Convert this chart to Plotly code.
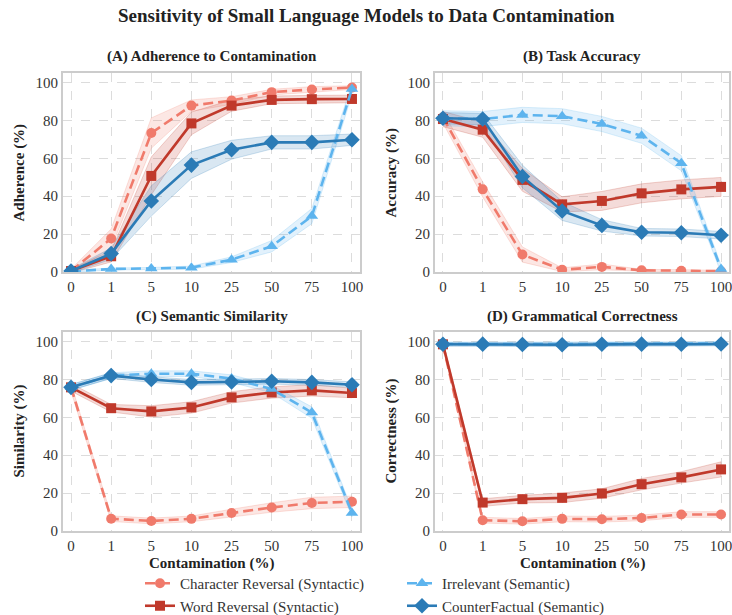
import plotly.graph_objects as go

W, H = 732, 615

# ---------------- data ----------------
contamination = ["0", "1", "5", "10", "25", "50", "75", "100"]

series_names = [
    "Character Reversal (Syntactic)",
    "Word Reversal (Syntactic)",
    "Irrelevant (Semantic)",
    "CounterFactual (Semantic)",
]

# (A) Adherence
adh_char = [0.5, 17.7, 73.3, 87.8, 90.5, 94.9, 96.3, 97.3]
adh_word = [0.5, 8.3, 50.7, 78.4, 87.8, 90.8, 91.2, 91.3]
adh_irr = [0.3, 1.6, 1.9, 2.3, 6.5, 13.6, 29.5, 96.6]
adh_cf = [0.5, 9.7, 37.5, 56.4, 64.5, 68.4, 68.4, 69.8]
adh_char_ci = [1, 5, 8, 3, 2, 1.5, 1.5, 1]
adh_word_ci = [1, 3, 10, 6, 3, 2, 2, 2]
adh_irr_ci = [0.5, 0.5, 0.5, 0.8, 1.5, 3, 4, 3]
adh_cf_ci = [1, 3, 8, 7, 5, 3.5, 3.5, 3]

# (B) Accuracy
acc_char = [81.6, 43.6, 9.2, 1.2, 2.7, 0.9, 0.7, 0.4]
acc_word = [80.7, 75.1, 48.6, 35.7, 37.5, 41.5, 43.6, 44.9]
acc_irr = [81.1, 80.7, 82.9, 82.2, 78.1, 71.9, 57.4, 1.6]
acc_cf = [81.1, 80.7, 50.4, 32.2, 24.6, 21.0, 20.7, 19.4]
acc_char_ci = [3, 4, 4, 1, 1.5, 0.5, 0.5, 0.5]
acc_word_ci = [4, 4, 6, 4, 5, 5, 5, 5]
acc_irr_ci = [4, 4, 4, 4, 4, 4, 4, 2]
acc_cf_ci = [3, 3, 6, 5, 3, 2, 2, 2]

# (C) Similarity
sim_char = [75.8, 6.5, 5.3, 6.4, 9.5, 12.4, 14.8, 15.4]
sim_word = [75.8, 64.8, 63.1, 65.2, 70.5, 73.1, 74.2, 72.8]
sim_irr = [75.8, 82.0, 83.0, 83.0, 80.4, 74.9, 62.5, 9.5]
sim_cf = [75.8, 82.0, 79.9, 78.4, 78.6, 79.0, 78.4, 77.2]
sim_char_ci = [2, 1.5, 1.5, 1.5, 2, 2.5, 3, 3]
sim_word_ci = [2, 2, 3, 3, 3, 3, 3, 2.5]
sim_irr_ci = [1.5, 1.5, 1.5, 1.5, 2, 2, 3, 2]
sim_cf_ci = [1.5, 1.5, 1.5, 1.5, 1.5, 1.5, 1.5, 1.5]

# (D) Correctness
cor_char = [98.5, 5.7, 5.1, 6.4, 6.2, 6.9, 8.7, 8.7]
cor_word = [98.5, 15.0, 16.8, 17.5, 19.8, 24.7, 28.3, 32.5]
cor_irr = [98.7, 98.8, 98.6, 98.6, 98.7, 98.8, 98.7, 99.0]
cor_cf = [98.5, 98.6, 98.4, 98.3, 98.5, 98.6, 98.5, 98.7]
cor_char_ci = [1, 1.5, 1.5, 1.5, 1.5, 1.5, 1.5, 1.5]
cor_word_ci = [1, 2, 2, 2.5, 2.5, 3, 3, 4]
cor_irr_ci = [1, 1, 1, 1, 1, 1, 1, 1]
cor_cf_ci = [1, 1, 1, 1, 1, 1, 1, 1]

panel_titles = [
    "(A) Adherence to Contamination",
    "(B) Task Accuracy",
    "(C) Semantic Similarity",
    "(D) Grammatical Correctness",
]
y_titles = ["Adherence (%)", "Accuracy (%)", "Similarity (%)", "Correctness (%)"]
x_title = "Contamination (%)"
main_title = "Sensitivity of Small Language Models to Data Contamination"
y_ticks = [0, 20, 40, 60, 80, 100]

panels = [
    [(adh_char, adh_char_ci), (adh_word, adh_word_ci), (adh_irr, adh_irr_ci), (adh_cf, adh_cf_ci)],
    [(acc_char, acc_char_ci), (acc_word, acc_word_ci), (acc_irr, acc_irr_ci), (acc_cf, acc_cf_ci)],
    [(sim_char, sim_char_ci), (sim_word, sim_word_ci), (sim_irr, sim_irr_ci), (sim_cf, sim_cf_ci)],
    [(cor_char, cor_char_ci), (cor_word, cor_word_ci), (cor_irr, cor_irr_ci), (cor_cf, cor_cf_ci)],
]

# ---------------- styles ----------------
FONT = "Liberation Serif"
colors = ["#F07A6B", "#C0392B", "#5DB4EE", "#2B7BB6"]
rgb = [(240, 122, 107), (192, 57, 43), (93, 180, 238), (43, 123, 182)]
dashes = ["10px,5px", "solid", "10px,5px", "solid"]
symbols = ["circle", "square", "triangle-up", "diamond"]
msizes = [10, 10, 11, 12]
legend_ids = ["legend", "legend", "legend2", "legend2"]

# pixel frames of plot areas (left, right, top, bottom)
frames = [(63, 360, 73, 272), (435, 729, 73, 272), (63, 360, 332, 531), (435, 729, 332, 531)]


def px_x(p):
    return p / W


def px_y(p):
    return 1 - p / H


fig = go.Figure()

for i, series in enumerate(panels):
    xa = "x" if i == 0 else f"x{i+1}"
    ya = "y" if i == 0 else f"y{i+1}"
    for s, (vals, ci) in enumerate(series):
        r, g, b = rgb[s]
        upper = [v + c for v, c in zip(vals, ci)]
        lower = [v - c for v, c in zip(vals, ci)]
        fig.add_trace(go.Scatter(
            x=contamination + contamination[::-1],
            y=upper + lower[::-1],
            fill="toself",
            fillcolor=f"rgba({r},{g},{b},0.18)",
            line=dict(color=f"rgba({r},{g},{b},0.22)", width=1),
            mode="lines",
            hoverinfo="skip",
            showlegend=False,
            xaxis=xa, yaxis=ya,
        ))
    for s, (vals, ci) in enumerate(series):
        fig.add_trace(go.Scatter(
            x=contamination, y=vals,
            mode="lines+markers",
            name=series_names[s],
            line=dict(color=colors[s], width=2.6, dash=dashes[s]),
            marker=dict(symbol=symbols[s], size=msizes[s], color=colors[s],
                        line=dict(color=colors[s], width=0)),
            showlegend=(i == 0),
            legend=legend_ids[s],
            xaxis=xa, yaxis=ya,
        ))

layout_axes = {}
annotations = []
for i, (l, r, t, b) in enumerate(frames):
    xk = "xaxis" if i == 0 else f"xaxis{i+1}"
    yk = "yaxis" if i == 0 else f"yaxis{i+1}"
    xa_anchor = "y" if i == 0 else f"y{i+1}"
    ya_anchor = "x" if i == 0 else f"x{i+1}"
    layout_axes[xk] = dict(
        domain=[px_x(l), px_x(r)], anchor=xa_anchor,
        type="category", categoryorder="array", categoryarray=contamination,
        range=[-0.2, 7.2],
        showgrid=True, gridcolor="#dcdcdc", griddash="dash", gridwidth=1,
        showline=True, linecolor="#cccccc", linewidth=1.8, mirror=True,
        ticks="", tickfont=dict(family=FONT, size=15, color="#333333"),
        zeroline=False, automargin=False,
    )
    layout_axes[yk] = dict(
        domain=[px_y(b), px_y(t)], anchor=ya_anchor,
        range=[0, 105], tickvals=y_ticks,
        showgrid=True, gridcolor="#dcdcdc", griddash="dash", gridwidth=1,
        showline=True, linecolor="#cccccc", linewidth=1.8, mirror=True,
        ticks="", tickfont=dict(family=FONT, size=15, color="#333333"),
        zeroline=False, automargin=False,
    )
    cx = (l + r) / 2
    annotations.append(dict(
        text=f"<b>{panel_titles[i]}</b>", x=px_x(cx), y=px_y(t - 16),
        xref="paper", yref="paper", showarrow=False,
        xanchor="center", yanchor="middle",
        font=dict(family=FONT, size=15, color="#222222"),
    ))
    annotations.append(dict(
        text=f"<b>{y_titles[i]}</b>", x=px_x(l - 44), y=px_y((t + b) / 2),
        xref="paper", yref="paper", showarrow=False, textangle=-90,
        xanchor="center", yanchor="middle",
        font=dict(family=FONT, size=15, color="#222222"),
    ))
    if i >= 2:
        annotations.append(dict(
            text=f"<b>{x_title}</b>", x=px_x(cx), y=px_y(b + 32),
            xref="paper", yref="paper", showarrow=False,
            xanchor="center", yanchor="middle",
            font=dict(family=FONT, size=15, color="#222222"),
        ))

annotations.append(dict(
    text=f"<b>{main_title}</b>", x=0.5, y=px_y(15),
    xref="paper", yref="paper", showarrow=False,
    xanchor="center", yanchor="middle",
    font=dict(family=FONT, size=19, color="#222222"),
))

fig.update_layout(
    width=W, height=H,
    margin=dict(l=0, r=0, t=0, b=0, autoexpand=False),
    paper_bgcolor="white", plot_bgcolor="white",
    font=dict(family=FONT, size=15, color="#333333"),
    annotations=annotations,
    legend=dict(x=px_x(140), y=px_y(567), xanchor="left", yanchor="top",
                orientation="v", bgcolor="rgba(0,0,0,0)",
                font=dict(family=FONT, size=15, color="#333333"),
                tracegroupgap=0),
    legend2=dict(x=px_x(402), y=px_y(567), xanchor="left", yanchor="top",
                 orientation="v", bgcolor="rgba(0,0,0,0)",
                 font=dict(family=FONT, size=15, color="#333333"),
                 tracegroupgap=0),
    **layout_axes,
)

fig.write_html("out.html")
